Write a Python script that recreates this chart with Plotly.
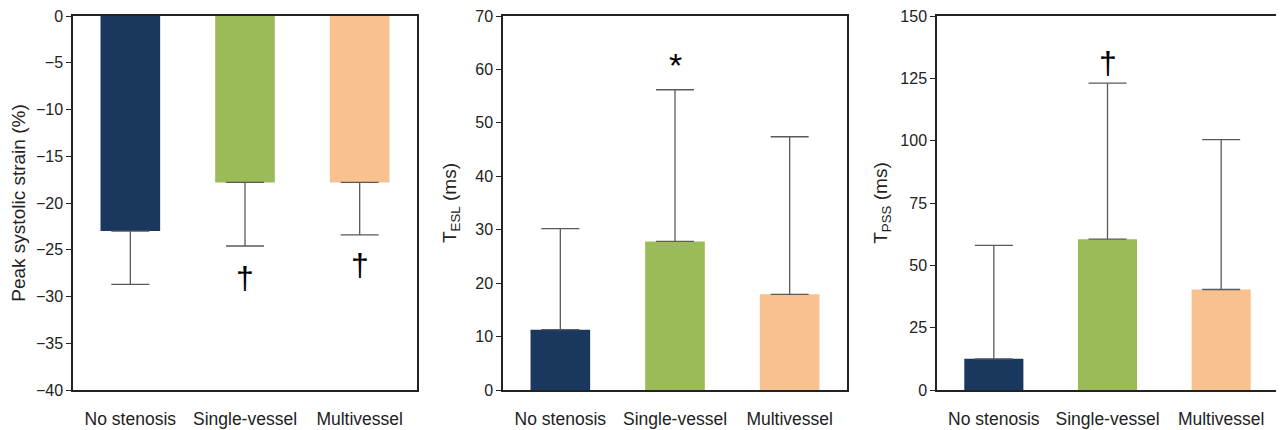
import plotly.graph_objects as go
from plotly.subplots import make_subplots

categories = ["No stenosis", "Single-vessel", "Multivessel"]
colors = ["#1a385e", "#9bbb59", "#f9c090"]

strain_mean = [-23.0, -17.8, -17.8]
strain_sd = [5.7, 6.8, 5.6]

tesl_mean = [11.3, 27.8, 17.9]
tesl_sd = [18.9, 28.4, 29.5]

tpss_mean = [12.5, 60.5, 40.3]
tpss_sd = [45.5, 62.6, 60.1]

strain_ticks = [0, -5, -10, -15, -20, -25, -30, -35, -40]
tesl_ticks = [0, 10, 20, 30, 40, 50, 60, 70]
tpss_ticks = [0, 25, 50, 75, 100, 125, 150]

# significance markers: (panel, category, y, symbol)
marks = [
    (1, "Single-vessel", -28.0, "†"),
    (1, "Multivessel", -26.6, "†"),
    (2, "Single-vessel", 60.8, "*"),
    (3, "Single-vessel", 131.0, "†"),
]

FONT = "Liberation Sans, Arial, sans-serif"

# page body has an 8px margin, so the figure is drawn 8px in from the corner
W, H = 1276, 422

fig = make_subplots(rows=1, cols=3)

err_style = dict(color="#5a5a5a", thickness=1.3, width=19)

fig.add_trace(go.Bar(
    x=categories, y=strain_mean, marker=dict(color=colors, line=dict(width=0)),
    width=0.52,
    error_y=dict(type="data", symmetric=False, array=[0, 0, 0], arrayminus=strain_sd, **err_style),
    showlegend=False), row=1, col=1)
fig.add_trace(go.Bar(
    x=categories, y=tesl_mean, marker=dict(color=colors, line=dict(width=0)),
    width=0.52,
    error_y=dict(type="data", symmetric=False, array=tesl_sd, arrayminus=[0, 0, 0], **err_style),
    showlegend=False), row=1, col=2)
fig.add_trace(go.Bar(
    x=categories, y=tpss_mean, marker=dict(color=colors, line=dict(width=0)),
    width=0.52,
    error_y=dict(type="data", symmetric=False, array=tpss_sd, arrayminus=[0, 0, 0], **err_style),
    showlegend=False), row=1, col=3)

ydom = [1 - 382 / H, 1 - 8 / H]
xdoms = [[65 / W, 409 / W], [495 / W, 839 / W], [929 / W, 1270 / W]]

axis_common = dict(showline=True, mirror=True, linecolor="#222", linewidth=1.5,
                   showgrid=False, zeroline=False, automargin=False,
                   ticklabeloverflow="allow")

for i in range(3):
    fig.update_xaxes(domain=xdoms[i], range=[-0.5, 2.5], ticks="", ticklabelstandoff=12,
                     tickfont=dict(size=17.5, color="#222", family=FONT),
                     **axis_common, row=1, col=i + 1)

fig.update_yaxes(domain=ydom, range=[-40, 0], tickvals=strain_ticks,
                 ticktext=[str(v).replace("-", "−") for v in strain_ticks],
                 ticks="outside", ticklen=5, tickcolor="#222",
                 tickfont=dict(size=16, color="#222", family=FONT),
                 title=dict(text="Peak systolic strain (%)", font=dict(size=19, color="#222", family=FONT), standoff=6),
                 **axis_common, row=1, col=1)
fig.update_yaxes(domain=ydom, range=[0, 70], tickvals=tesl_ticks,
                 ticks="outside", ticklen=5, tickcolor="#222",
                 tickfont=dict(size=16, color="#222", family=FONT),
                 title=dict(text="T<sub>ESL</sub> (ms)", font=dict(size=19, color="#222", family=FONT), standoff=14),
                 **axis_common, row=1, col=2)
fig.update_yaxes(domain=ydom, range=[0, 150], tickvals=tpss_ticks,
                 ticks="outside", ticklen=5, tickcolor="#222",
                 tickfont=dict(size=16, color="#222", family=FONT),
                 title=dict(text="T<sub>PSS</sub> (ms)", font=dict(size=19, color="#222", family=FONT), standoff=8),
                 **axis_common, row=1, col=3)

for panel, cat, yv, sym in marks:
    ax = "" if panel == 1 else str(panel)
    fig.add_annotation(x=cat, y=yv, xref="x" + ax, yref="y" + ax, text=sym, showarrow=False,
                       font=dict(size=32 if sym == "†" else 34, color="black", family=FONT),
                       xanchor="center", yanchor="middle")

fig.update_layout(width=W, height=H, margin=dict(l=0, r=0, t=0, b=0),
                  paper_bgcolor="white", plot_bgcolor="white", bargap=0.48,
                  font=dict(family=FONT, color="#222"))

fig.write_html("out.html")
